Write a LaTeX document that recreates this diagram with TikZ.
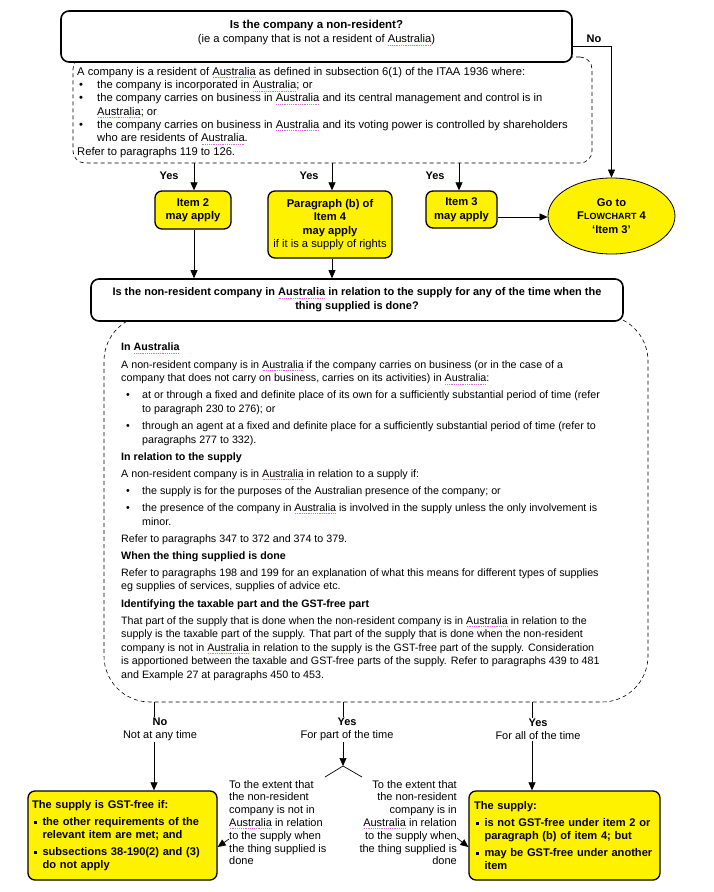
\documentclass[tikz,border=0pt]{standalone}
\usepackage{fontspec}
\setmainfont{Liberation Sans}
\usetikzlibrary{arrows.meta,shapes.geometric}
\definecolor{spell}{RGB}{215,110,215}
\newcommand\fsz[2]{\fontsize{#1}{#2}\selectfont}
\newcommand\bulA{\makebox[20pt][l]{\hspace{2pt}\textbullet}}
\newcommand\indA{\hspace*{20pt}}
\newcommand\bulB{\makebox[21pt][l]{\hspace{5pt}\textbullet}}
\newcommand\indB{\hspace*{21pt}}
\newcommand\sqbul{\makebox[10.5pt][l]{\hspace{2pt}\rule[1.5pt]{3.2pt}{3.2pt}}}
\newcommand\indC{\hspace*{10.5pt}}
\newcommand\aus{\setbox0\hbox{Australia}\rlap{\raisebox{-2.3pt}{\color{spell}\hbox to\wd0{\xleaders\hbox to 1.8pt{\hss\rule{0.8pt}{0.4pt}\hss}\hfill}}}\box0}
\begin{document}
\begin{tikzpicture}[x=1pt,y=-1pt,
  arr/.style={-{Triangle[length=8pt,width=7pt]}, line width=0.7pt},
  line/.style={line width=0.7pt},
  qbox/.style={draw, line width=1.6pt, rounded corners=8pt, fill=white, align=center, inner sep=0pt, font=\fsz{11.2}{14}},
  ybox/.style={draw, line width=1.3pt, rounded corners=7pt, fill=yellow, align=center, inner sep=0pt, font=\bfseries\fsz{11.2}{13.5}},
  dbox/.style={draw, dash pattern=on 4pt off 3pt, line width=0.6pt, inner sep=0pt},
  lbl/.style={fill=white, inner sep=1pt, align=center, font=\fsz{11}{13}},
  yes/.style={inner sep=0pt, font=\bfseries\fsz{11}{12}},
  txt/.style={inner sep=0pt, align=left}
]
\fill[white] (0,0) rectangle (713,892);
\useasboundingbox (0,0) rectangle (713,892);

% dashed explanation boxes (drawn first, questions cover their tops)
\node[dbox, rounded corners=12pt, minimum width=519pt, minimum height=106pt] (d1) at (332.5,110) {};
\node[dbox, rounded corners=46pt, minimum width=544pt, minimum height=387pt] (d2) at (376,508.5) {};

% top question
\node[qbox, minimum width=511pt, minimum height=51pt] (q1) at (316.5,36.5)
  {{\fsz{11.5}{14}\bfseries Is the company a non-resident?}\\(ie a company that is not a resident of \aus)\\[-4pt]};

\node[txt, anchor=north west, font=\fsz{11.2}{13.3}] (t1) at (77,67) {%
A company is a resident of \aus{} as defined in subsection 6(1) of the ITAA 1936 where:\\
\bulA the company is incorporated in \aus; or\\
\bulA the company carries on business in \aus{} and its central management and control is in\\
\indA \aus; or\\
\bulA the company carries on business in \aus{} and its voting power is controlled by shareholders\\
\indA who are residents of \aus.\\
Refer to paragraphs 119 to 126.};

% yes boxes
\node[ybox, minimum width=76pt, minimum height=38pt] (i2) at (193,210) {Item 2\\may apply};
\node[ybox, minimum width=124pt, minimum height=67pt] (pb) at (330,224.5)
  {Paragraph (b) of\\Item 4\\may apply\\\mdseries if it is a supply of rights};
\node[ybox, minimum width=71pt, minimum height=37pt] (i3) at (461.5,209.5) {Item 3\\may apply};
\node[ellipse, draw, line width=0.8pt, fill=yellow, minimum width=127pt, minimum height=76pt, inner sep=0pt,
  align=center, font=\bfseries\fsz{11.2}{13.5}] (go) at (611.5,216)
  {Go to\\F{\fsz{9}{13.5}LOWCHART} 4\\‘Item 3’};

\coordinate (y1) at (194,163);
\coordinate (y2) at (332,163);
\coordinate (y3) at (459,163);
\draw[arr] (y1) -- (y1 |- i2.north);
\draw[arr] (y2) -- (y2 |- pb.north);
\draw[arr] (y3) -- (y3 |- i3.north);
\node[yes] (ly1) at (169,176) {Yes};
\node[yes] (ly2) at (309,176) {Yes};
\node[yes] (ly3) at (435,176) {Yes};

\draw[arr] ([yshift=-9.5pt]q1.east) -| (go.north);
\node[yes] (lno) at (594,39) {No};
\draw[arr] (i3.east |- 0,217) -- (go.west |- 0,217);

% second question
\node[qbox, minimum width=532pt, minimum height=42pt, font=\bfseries\fsz{11}{14}] (q2) at (357,300)
  {Is the non-resident company in \aus{} in relation to the supply for any of the time when the\\thing supplied is done?};
\draw[arr] (y1 |- i2.south) -- (y1 |- q2.north);
\draw[arr] (y2 |- pb.south) -- (y2 |- q2.north);

\node[txt, anchor=north west, font=\fsz{10.7}{13.6}] (t2) at (121,343) {%
\textbf{In \aus}\\[3.5pt]
A non-resident company is in \aus{} if the company carries on business (or in the case of a\\
company that does not carry on business, carries on its activities) in \aus:\\[3.5pt]
\bulB at or through a fixed and definite place of its own for a sufficiently substantial period of time (refer\\
\indB to paragraph 230 to 276); or\\[3.5pt]
\bulB through an agent at a fixed and definite place for a sufficiently substantial period of time (refer to\\
\indB paragraphs 277 to 332).\\[3.5pt]
\textbf{In relation to the supply}\\[3.5pt]
A non-resident company is in \aus{} in relation to a supply if:\\[3.5pt]
\bulB the supply is for the purposes of the Australian presence of the company; or\\[3.5pt]
\bulB the presence of the company in \aus{} is involved in the supply unless the only involvement is\\
\indB minor.\\[3.5pt]
Refer to paragraphs 347 to 372 and 374 to 379.\\[3.5pt]
\textbf{When the thing supplied is done}\\[3.5pt]
Refer to paragraphs 198 and 199 for an explanation of what this means for different types of supplies\\
eg supplies of services, supplies of advice etc.\\[3.5pt]
\textbf{Identifying the taxable part and the GST-free part}\\[3.5pt]
That part of the supply that is done when the non-resident company is in \aus{} in relation to the\\
supply is the taxable part of the supply. That part of the supply that is done when the non-resident\\
company is not in \aus{} in relation to the supply is the GST-free part of the supply. Consideration\\
is apportioned between the taxable and GST-free parts of the supply. Refer to paragraphs 439 to 481\\
and Example 27 at paragraphs 450 to 453.};

% outcome boxes
\node[ybox, minimum width=189pt, minimum height=89pt, text width=181pt, align=left, font=\bfseries\fsz{11.1}{13}] (lb) at (122.5,835.5) {%
The supply is GST-free if:\\[4pt]
\sqbul the other requirements of the\\
\indC relevant item are met; and\\[4pt]
\sqbul subsections 38-190(2) and (3)\\
\indC do not apply};
\node[ybox, minimum width=191pt, minimum height=89pt, text width=181pt, align=left, font=\bfseries\fsz{11.1}{13}] (rb) at (564.5,835.5) {%
The supply:\\[4pt]
\sqbul is not GST-free under item 2 or\\
\indC paragraph (b) of item 4; but\\[4pt]
\sqbul may be GST-free under another\\
\indC item};

\coordinate (b1) at (154,702);
\coordinate (b2) at (343,702);
\coordinate (b3) at (532,702);
\coordinate (fork) at (343,766);
\coordinate (fl) at (325,777);
\coordinate (fr) at (362,777);
\draw[arr] (b1) -- (b1 |- lb.north);
\draw[arr] (b2) -- (fork);
\draw[line] (fork) -- (fl);
\draw[line] (fork) -- (fr);
\draw[arr] (b3) -- (b3 |- rb.north);
\node[lbl] (lb1) at (160,729.5) {\textbf{No}\\Not at any time};
\node[lbl] (lb2) at (347,729.5) {\textbf{Yes}\\For part of the time};
\node[lbl] (lb3) at (538,729.5) {\textbf{Yes}\\For all of the time};

\node[txt, anchor=north west, font=\fsz{11}{12.8}] (lt) at (229,780) {%
To the extent that\\the non-resident\\company is not in\\\aus{} in relation\\to the supply when\\the thing supplied is\\done};
\node[txt, anchor=north east, align=right, font=\fsz{11}{12.8}] (rt) at (457,780) {%
To the extent that\\the non-resident\\company is in\\\aus{} in relation\\to the supply when\\the thing supplied is\\done};
\draw[arr] (lt.west |- 0,839) -- (lb.east |- 0,847);
\draw[arr] (rt.east |- 0,838) -- (rb.west |- 0,847);
\end{tikzpicture}
\end{document}
